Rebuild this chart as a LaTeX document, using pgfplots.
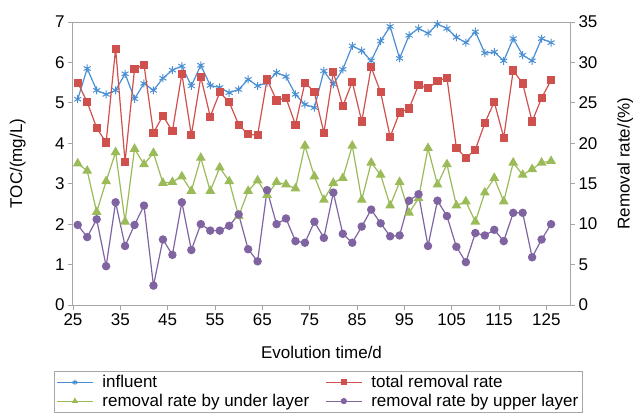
\documentclass[border=0pt]{standalone}
\usepackage{fontspec}
\setmainfont{Liberation Sans}
\usepackage{pgfplots}
\usepackage{pgfplotstable}
\pgfplotsset{compat=1.18}
\definecolor{cblue}{HTML}{4A8FD3}
\definecolor{cred}{HTML}{D0504D}
\definecolor{cgreen}{HTML}{9BBB59}
\definecolor{cpurple}{HTML}{8064A2}
\definecolor{axgray}{HTML}{A6A6A6}

\pgfplotstableread{
d influent total under upper
26 5.09 27.5 17.5 9.9
28 5.85 25.1 16.6 8.4
30 5.31 21.9 11.5 10.6
32 5.21 20.1 15.3 4.8
34 5.31 31.7 18.9 12.7
36 5.72 17.7 10.3 7.3
38 5.10 29.2 19.3 9.9
40 5.48 29.7 17.4 12.3
42 5.31 21.3 18.8 2.4
44 5.61 23.4 15.1 8.1
46 5.81 21.5 15.2 6.2
48 5.91 28.6 15.9 12.7
50 5.42 21.0 14.1 6.8
52 5.93 28.2 18.2 10.0
54 5.43 23.3 14.1 9.2
56 5.38 26.3 17.0 9.2
58 5.25 25.1 15.3 9.8
60 5.33 22.3 11.0 11.2
62 5.58 21.1 14.1 6.9
64 5.42 21.0 15.4 5.4
66 5.50 27.9 13.6 14.2
68 5.75 25.3 15.2 10.0
70 5.65 25.6 14.9 10.7
72 5.21 22.3 14.4 7.9
74 4.96 27.5 19.7 7.7
76 4.88 26.3 15.9 10.3
78 5.79 21.3 13.0 8.3
80 5.46 28.8 15.1 13.9
82 5.83 24.6 15.7 8.8
84 6.41 27.6 19.7 7.7
86 6.29 22.7 13.0 9.7
88 6.04 29.4 17.6 11.8
90 6.53 26.3 16.1 10.1
92 6.89 20.8 12.3 8.5
94 6.10 23.8 15.2 8.6
96 6.67 24.3 11.4 12.9
98 6.84 27.2 13.2 13.7
100 6.72 26.8 19.4 7.3
102 6.95 27.7 14.9 12.9
104 6.84 28.1 17.4 11.0
106 6.62 19.4 12.3 7.2
108 6.49 18.2 12.8 5.3
110 6.76 19.2 10.3 8.9
112 6.23 22.5 13.9 8.6
114 6.26 25.1 15.7 9.3
116 6.04 20.7 12.8 7.9
118 6.59 29.0 17.6 11.4
120 6.18 27.4 16.1 11.4
122 6.04 22.7 16.8 5.9
124 6.59 25.6 17.6 8.1
126 6.49 27.8 17.8 10.0
}\datatable

\pgfplotsset{
  common/.style={
    scale only axis, width=497bp, height=283bp,
    xmin=25, xmax=130,
    xtick={25,35,...,125},
    font=\fontsize{17bp}{20bp}\selectfont,
    tick label style={font=\fontsize{17bp}{20bp}\selectfont},
    /pgf/number format/assume math mode=true,
    axis line style={axgray, line width=1bp},
    tick style={axgray, line width=0.8bp},
    tick align=outside,
    major tick length=5bp,
    every axis plot/.append style={line width=1.2bp},
  }
}

\begin{document}
\begin{tikzpicture}
\path[use as bounding box, clip] (-73bp,-109bp) rectangle (563bp,305bp);
\begin{axis}[common,
  ymin=0, ymax=7, ytick={0,1,...,7},
  xtick pos=bottom, ytick pos=left,
  xlabel={Evolution time/d},
  ylabel={TOC/(mg/L)},
  xlabel style={at={(axis description cs:0.5,-0.166)}, anchor=center},
  ylabel style={at={(axis description cs:-0.111,0.5)}, anchor=center},
]
\addplot[cblue, mark=asterisk, mark size=4bp, mark options={line width=1bp}] table[x=d, y=influent] {\datatable};
\end{axis}
\begin{axis}[common,
  ymin=0, ymax=35, ytick={0,5,...,35},
  axis x line=none, axis y line*=right,
  ylabel={Removal rate/(\%)},
  ylabel style={at={(axis description cs:1.111,0.5)}, anchor=center},
  legend columns=2,
  legend cell align=left,
  legend style={at={(-0.0382,-0.2332)}, anchor=north west, draw=axgray, line width=0.8bp,
    font=\fontsize{17bp}{20bp}\selectfont, inner sep=2bp, row sep=1bp,
    /tikz/every odd column/.append style={column sep=7bp},
    /tikz/every even column/.append style={column sep=14bp}},
  legend image post style={mark size=2.6bp, line width=1bp},
  legend image code/.code={\draw[mark repeat=2,mark phase=2,#1] plot coordinates {(0bp,0bp) (18bp,0bp) (36bp,0bp)};},
]
\addlegendimage{cblue, mark=asterisk, mark size=3bp, line width=1bp}
\addlegendentry{influent}
\addplot[cred, mark=square*, mark size=3.5bp] table[x=d, y=total] {\datatable};
\addlegendentry{total removal rate}
\addplot[cgreen, mark=triangle*, mark size=4.5bp] table[x=d, y=under] {\datatable};
\addlegendentry{removal rate by under layer}
\addplot[cpurple, mark=*, mark size=3.6bp] table[x=d, y=upper] {\datatable};
\addlegendentry{removal rate by upper layer}
\end{axis}
\end{tikzpicture}
\end{document}
